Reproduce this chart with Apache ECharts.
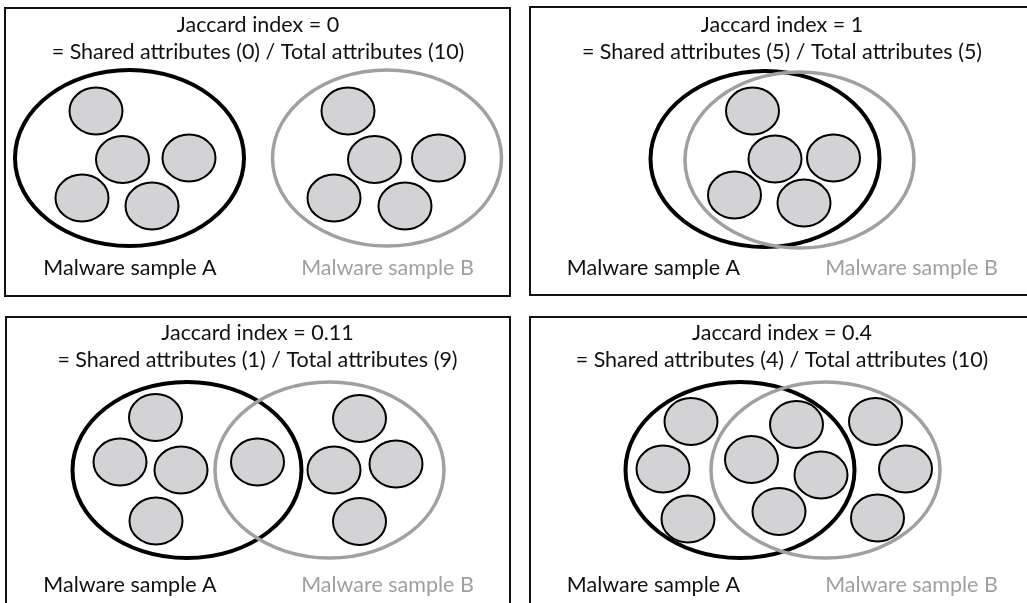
<!DOCTYPE html>
<html>
<head>
<meta charset="utf-8">
<script src="https://cdn.jsdelivr.net/npm/echarts@6/dist/echarts.min.js"></script>
<style>
html,body{margin:0;padding:0;background:#fff;}
#chart{width:1027px;height:603px;}
</style>
</head>
<body>
<div id="chart"></div>
<script>
// ---- Data ----
const jaccardTitles = ['Jaccard index = 0', 'Jaccard index = 1', 'Jaccard index = 0.11', 'Jaccard index = 0.4'];
const sharedCounts = [0, 5, 1, 4];
const totalCounts = [10, 5, 9, 10];
const sampleLabels = ['Malware sample A', 'Malware sample B'];

// attribute (small circle) centers, per panel, diagram units
const attrsPanel1 = [[96,111],[122.5,159.5],[189,158],[82,198],[152,206],
                     [348,111],[374.5,159.5],[438.5,158],[334,198],[405,206]];
const attrsPanel2 = [[752.5,111],[775,159],[833.5,158],[734.5,195],[804,203]];
const attrsPanel3 = [[155.5,417.5],[120,462],[181,470],[156,521],[257.5,462],
                     [359.5,418.5],[334,470],[396,464],[359.5,521.5]];
const attrsPanel4 = [[691,421.5],[663,469],[688,519],
                     [796.5,424.5],[751.5,459.5],[821,475],[779,511.5],
                     [875.5,421.5],[905.5,469],[877.5,518]];

// sample set centers (A, B) per panel
const setA = [[129.5,158],[765,159],[187,470],[740,470]];
const setB = [[387,158],[799.5,160],[329.5,470],[825.5,470]];

// ---- Layout ----
const panelBoxes = [[5,8,510,296],[530,7,1032,295],[6,317,510,612],[530,317,1032,612]];
const titleCenters = [[258,25],[782,25],[257.5,333],[782,333]];
const labelRows = [[130,387.5,268],[653.5,911.5,268],[130,387.5,585],[653.5,911.5,585]];
const FONT = '21.5px Lato, "Open Sans", sans-serif';
const GRAY = '#a0a0a0';

const chart = echarts.init(document.getElementById('chart'), null, {renderer:'canvas'});

const allAttrs = [].concat(attrsPanel1, attrsPanel2, attrsPanel3, attrsPanel4);
const setData = [];
for (let i = 0; i < 4; i++) {
  setData.push([setA[i][0], setA[i][1], 0]);
  setData.push([setB[i][0], setB[i][1], 1]);
}

const textData = [];
for (let i = 0; i < 4; i++) {
  textData.push([titleCenters[i][0], titleCenters[i][1], jaccardTitles[i], 0]);
  textData.push([titleCenters[i][0], titleCenters[i][1] + 27,
    '= Shared attributes (' + sharedCounts[i] + ') / Total attributes (' + totalCounts[i] + ')', 0]);
  textData.push([labelRows[i][0], labelRows[i][2], sampleLabels[0], 0]);
  textData.push([labelRows[i][1], labelRows[i][2], sampleLabels[1], 1]);
}

chart.setOption({
  animation: false,
  backgroundColor: '#fff',
  grid: {left:0, right:0, top:0, bottom:0},
  xAxis: {type:'value', min:0, max:1027, show:false},
  yAxis: {type:'value', min:0, max:603, inverse:true, show:false},
  series: [
    {
      type:'custom', silent:true, z:1,
      data: panelBoxes,
      renderItem: function(params, api){
        const p0 = api.coord([api.value(0), api.value(1)]);
        const p1 = api.coord([api.value(2), api.value(3)]);
        return {type:'rect', shape:{x:p0[0], y:p0[1], width:p1[0]-p0[0], height:p1[1]-p0[1]},
          style:{fill:null, stroke:'#111', lineWidth:2}};
      }
    },
    {
      type:'custom', silent:true, z:2,
      data: setData,
      renderItem: function(params, api){
        const c = api.coord([api.value(0), api.value(1)]);
        const s = api.size([114.5, 88]);
        const isB = api.value(2) === 1;
        return {type:'ellipse', shape:{cx:c[0], cy:c[1], rx:s[0], ry:s[1]},
          style:{fill:null, stroke: isB ? GRAY : '#000', lineWidth: isB ? 3.5 : 4}};
      }
    },
    {
      type:'custom', silent:true, z:3,
      data: allAttrs,
      renderItem: function(params, api){
        const c = api.coord([api.value(0), api.value(1)]);
        const s = api.size([26.5, 23.5]);
        return {type:'ellipse', shape:{cx:c[0], cy:c[1], rx:s[0], ry:s[1]},
          style:{fill:'#d3d3d5', stroke:'#000', lineWidth:2}};
      }
    },
    {
      type:'custom', silent:true, z:4,
      data: textData,
      renderItem: function(params, api){
        const c = api.coord([api.value(0), api.value(1)]);
        return {type:'text', x:c[0], y:c[1],
          style:{text: api.value(2), fill: api.value(3) === 1 ? GRAY : '#111',
                 font: FONT, align:'center', verticalAlign:'middle'}};
      }
    }
  ]
});
</script>
</body>
</html>
